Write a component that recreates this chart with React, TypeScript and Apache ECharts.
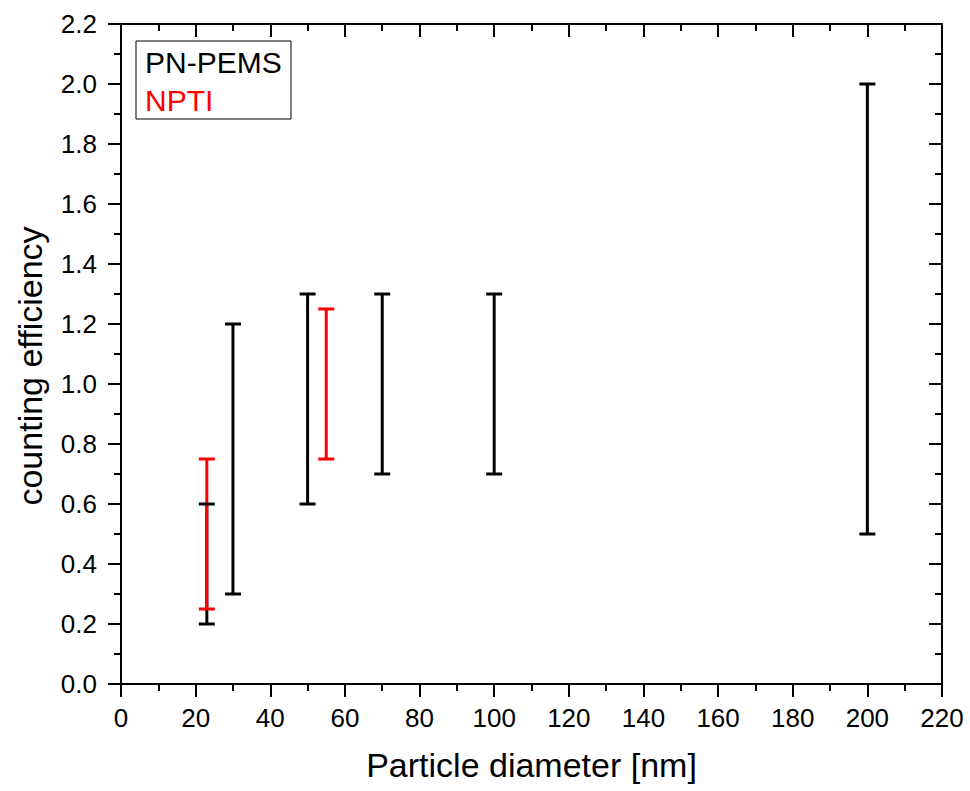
import React, { useEffect, useRef } from "react";
import * as echarts from "echarts";

const FONT = "'Liberation Sans', Arial, Helvetica, sans-serif";

// PN-PEMS ranges: [diameter nm, lower efficiency, upper efficiency]
const pnPemsDiameters = [23, 30, 50, 70, 100, 200];
const pnPemsLower = [0.2, 0.3, 0.6, 0.7, 0.7, 0.5];
const pnPemsUpper = [0.6, 1.2, 1.3, 1.3, 1.3, 2.0];

// NPTI ranges
const nptiDiameters = [23, 55];
const nptiLower = [0.25, 0.75];
const nptiUpper = [0.75, 1.25];

const xTitle = "Particle diameter [nm]";
const yTitle = "counting efficiency";
const legendNames = ["PN-PEMS", "NPTI"];
const colors = ["#000000", "#ff0000"];

function makeRender(color: string, capZ: number, lineZ: number) {
  return (params: any, api: any) => {
    const x = api.value(0);
    const lo = api.value(1);
    const hi = api.value(2);
    const p1 = api.coord([x, lo]);
    const p2 = api.coord([x, hi]);
    const hw = 8;
    const style = { stroke: color, lineWidth: 3 };
    return {
      type: "group",
      children: [
        { type: "line", z2: lineZ, shape: { x1: p1[0], y1: p1[1], x2: p2[0], y2: p2[1] }, style },
        { type: "line", z2: capZ, shape: { x1: p1[0] - hw, y1: p1[1], x2: p1[0] + hw, y2: p1[1] }, style },
        { type: "line", z2: capZ, shape: { x1: p2[0] - hw, y1: p2[1], x2: p2[0] + hw, y2: p2[1] }, style },
      ],
    };
  };
}

export default function App() {
  const ref = useRef<HTMLDivElement>(null);
  useEffect(() => {
    if (!ref.current) return;
    const chart = echarts.init(ref.current, undefined, { renderer: "svg" });
    const axisLine = { show: true, onZero: false, lineStyle: { color: "#000", width: 2 } };
    const tickStyle = { color: "#000", width: 2 };
    const baseX = {
      type: "value",
      min: 0,
      max: 220,
      interval: 20,
      splitLine: { show: false },
      axisLine,
      minorTick: { show: true, splitNumber: 2, length: 7, lineStyle: tickStyle },
      axisTick: { show: true, length: 13, lineStyle: tickStyle },
    };
    const baseY = {
      type: "value",
      min: 0,
      max: 2.2,
      interval: 0.2,
      splitLine: { show: false },
      axisLine,
      minorTick: { show: true, splitNumber: 2, length: 7, lineStyle: tickStyle },
      axisTick: { show: true, length: 13, lineStyle: tickStyle },
    };
    const pnData = pnPemsDiameters.map((d, i) => [d, pnPemsLower[i], pnPemsUpper[i]]);
    const npData = nptiDiameters.map((d, i) => [d, nptiLower[i], nptiUpper[i]]);
    chart.setOption({
      animation: false,
      backgroundColor: "#fff",
      textStyle: { fontFamily: FONT },
      grid: { left: 121, right: 28, top: 24, bottom: 107 },
      xAxis: [
        {
          ...baseX,
          position: "bottom",
          name: xTitle,
          nameLocation: "middle",
          nameGap: 64,
          nameTextStyle: { fontSize: 34, color: "#000", fontFamily: FONT },
          axisLabel: { fontSize: 26, color: "#000", margin: 21, fontFamily: FONT },
        },
        {
          ...baseX,
          position: "top",
          axisTick: { ...baseX.axisTick, inside: true },
          minorTick: { ...baseX.minorTick },
          axisLabel: { show: false },
        },
      ],
      yAxis: [
        {
          ...baseY,
          position: "left",
          name: yTitle,
          nameLocation: "middle",
          nameGap: 74,
          nameTextStyle: { fontSize: 34, color: "#000", fontFamily: FONT, padding: [0, 24, 0, 0] },
          axisLabel: {
            fontSize: 26,
            color: "#000",
            margin: 24,
            fontFamily: FONT,
            formatter: (v: number) => v.toFixed(1),
          },
        },
        {
          ...baseY,
          position: "right",
          axisTick: { ...baseY.axisTick, inside: true },
          axisLabel: { show: false },
        },
      ],
      series: [
        {
          name: legendNames[0],
          type: "custom",
          xAxisIndex: 0,
          yAxisIndex: 0,
          encode: { x: 0, y: [1, 2] },
          renderItem: makeRender(colors[0], 10, 1),
          data: pnData,
        },
        {
          name: legendNames[1],
          type: "custom",
          xAxisIndex: 0,
          yAxisIndex: 0,
          encode: { x: 0, y: [1, 2] },
          renderItem: makeRender(colors[1], 8, 5),
          data: npData,
        },
      ],
      graphic: [
        {
          type: "rect",
          shape: { x: 136, y: 41, width: 155, height: 78 },
          style: { fill: "#fff", stroke: "#000", lineWidth: 1 },
          z: 10,
        },
        {
          type: "text",
          x: 145,
          y: 62,
          z: 11,
          style: { text: legendNames[0], fill: colors[0], font: `30px ${FONT}`, verticalAlign: "middle" },
        },
        {
          type: "text",
          x: 145,
          y: 100,
          z: 11,
          style: { text: legendNames[1], fill: colors[1], font: `30px ${FONT}`, verticalAlign: "middle" },
        },
      ],
    });
    return () => chart.dispose();
  }, []);
  return (
    <div
      ref={ref}
      style={{ position: "absolute", left: 0, top: 0, width: 970, height: 791, background: "#fff" }}
    />
  );
}
